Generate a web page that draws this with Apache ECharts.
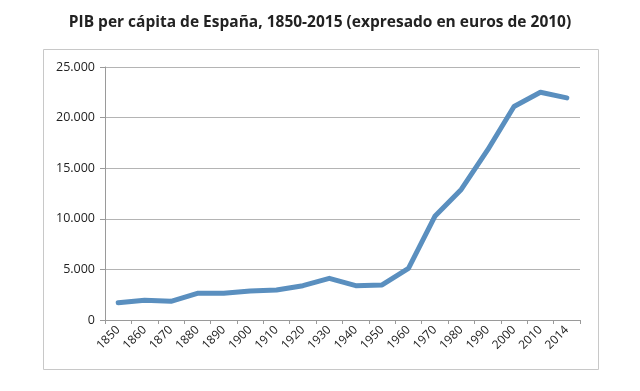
<!DOCTYPE html>
<html><head><meta charset="utf-8">
<script src="https://cdn.jsdelivr.net/npm/echarts@6/dist/echarts.min.js"></script>
<style>html,body{margin:0;padding:0;background:#fff}#c{width:640px;height:391px}</style>
</head><body><div id="c"></div>
<script>
const categories = ['1850','1860','1870','1880','1890','1900','1910','1920','1930','1940','1950','1960','1970','1980','1990','2000','2010','2014'];
const pibValues = [1710,1950,1850,2640,2640,2870,2960,3390,4120,3390,3460,5100,10250,12900,16800,21100,22500,21950];
const yTicks = {min:0, max:25000, interval:5000};
const titleText = 'PIB per cápita de España, 1850-2015 (expresado en euros de 2010)';

const chart = echarts.init(document.getElementById('c'), null, {renderer:'canvas'});
chart.setOption({
  animation:false,
  backgroundColor:'#fff',
  title:{text:titleText,left:'center',top:10,textStyle:{fontFamily:'Open Sans',fontWeight:'bold',fontSize:15.5,color:'#222'}},
  graphic:[{type:'rect',shape:{x:43.5,y:49.5,width:555,height:320},style:{fill:'none',stroke:'#c8c8c8',lineWidth:1},silent:true}],
  grid:{left:105,right:60,top:67,bottom:71},
  xAxis:{type:'category',data:categories,boundaryGap:true,
    axisLine:{lineStyle:{color:'#9a9a9a'}},
    axisTick:{show:true,length:4,lineStyle:{color:'#9a9a9a'}},
    axisLabel:{rotate:45,interval:0,fontFamily:'Open Sans',fontSize:12,color:'#222',margin:8}},
  yAxis:{type:'value',min:yTicks.min,max:yTicks.max,interval:yTicks.interval,
    axisLine:{show:true,lineStyle:{color:'#9a9a9a'}},
    axisTick:{show:true,length:5,lineStyle:{color:'#9a9a9a'}},
    splitLine:{lineStyle:{color:'#b4b4b4'}},
    axisLabel:{fontFamily:'Open Sans',fontSize:12.5,color:'#222',margin:10,
      formatter:v=>v===0?'0':v.toString().replace(/\B(?=(\d{3})+(?!\d))/g,'.')+''}},
  series:[{type:'line',data:pibValues,symbol:'none',lineStyle:{color:'#5a8fbf',width:5,join:'round',cap:'round'}}]
});
</script></body></html>
